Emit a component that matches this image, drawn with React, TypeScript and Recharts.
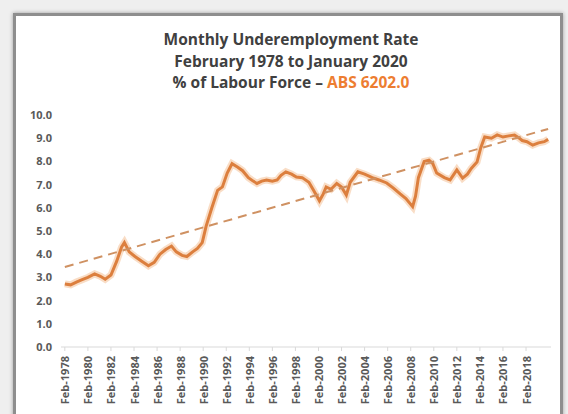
import { ComposedChart, Line, XAxis, YAxis } from "recharts";

// month of each reading (YYYY-MM) and the underemployment rate, % of labour force
const months = [
  "1978-02", "1978-08", "1979-02", "1979-08", "1980-02", "1980-09", "1981-03", "1981-08",
  "1982-02", "1982-08", "1983-01", "1983-04", "1983-09", "1984-03", "1984-10", "1985-05",
  "1985-11", "1986-05", "1986-11", "1987-05", "1987-10", "1988-04", "1988-09", "1989-03",
  "1989-08", "1990-01", "1990-05", "1990-11", "1991-05", "1991-10", "1992-03", "1992-08",
  "1993-02", "1993-07", "1994-01", "1994-06", "1994-10", "1995-03", "1995-08", "1996-02",
  "1996-07", "1996-11", "1997-04", "1997-10", "1998-03", "1998-09", "1999-04", "1999-09",
  "2000-03", "2000-07", "2000-10", "2001-03", "2001-09", "2002-02", "2002-07", "2002-11",
  "2003-07", "2004-02", "2004-10", "2005-05", "2006-01", "2006-08", "2007-03", "2007-09",
  "2008-04", "2008-07", "2008-10", "2009-04", "2009-09", "2010-01", "2010-05", "2011-01",
  "2011-07", "2012-02", "2012-08", "2013-01", "2013-05", "2013-11", "2014-03", "2014-07",
  "2015-02", "2015-08", "2016-02", "2016-08", "2017-02", "2017-07", "2017-10", "2018-03",
  "2018-09", "2019-03", "2019-09", "2020-01",
];
const rate = [
  2.72, 2.68, 2.8, 2.9, 3.0, 3.15, 3.05, 2.92,
  3.1, 3.7, 4.3, 4.5, 4.1, 3.9, 3.7, 3.5,
  3.65, 4.0, 4.2, 4.35, 4.1, 3.95, 3.9, 4.1,
  4.25, 4.5, 5.2, 6.0, 6.75, 6.9, 7.5, 7.9,
  7.75, 7.6, 7.3, 7.15, 7.05, 7.15, 7.2, 7.15,
  7.2, 7.4, 7.55, 7.45, 7.33, 7.3, 7.1, 6.75,
  6.3, 6.6, 6.9, 6.8, 7.05, 6.9, 6.55, 7.1,
  7.55, 7.45, 7.3, 7.2, 7.07, 6.85, 6.6, 6.4,
  6.05, 6.5, 7.3, 8.0, 8.05, 7.9, 7.5, 7.3,
  7.2, 7.63, 7.28, 7.45, 7.7, 7.97, 8.6, 9.05,
  9.0, 9.14, 9.05, 9.1, 9.14, 9.0, 8.9, 8.85,
  8.7, 8.8, 8.85, 8.95,
];

// linear trend, start and end
const trendMonths = ["1978-02", "2020-01"];
const trendRate = [3.45, 9.4];

const tickLabels = [
  "Feb-1978", "Feb-1980", "Feb-1982", "Feb-1984", "Feb-1986", "Feb-1988", "Feb-1990",
  "Feb-1992", "Feb-1994", "Feb-1996", "Feb-1998", "Feb-2000", "Feb-2002", "Feb-2004",
  "Feb-2006", "Feb-2008", "Feb-2010", "Feb-2012", "Feb-2014", "Feb-2016", "Feb-2018",
];
const yTicks = [0, 1, 2, 3, 4, 5, 6, 7, 8, 9, 10];

const toYear = (m: string) => {
  const [y, mo] = m.split("-").map(Number);
  return y + (mo - 1) / 12;
};
const labelToYear = (l: string) => Number(l.slice(4)) + 1 / 12;

const series = months.map((m, i) => ({ t: toYear(m), v: rate[i] }));
const trend = trendMonths.map((m, i) => ({ t: toYear(m), v: trendRate[i] }));
const xTicks = tickLabels.map(labelToYear);

const FONT = "'Open Sans', Lato, sans-serif";
const AXIS_TEXT = "#595959";

function XTick({ x, y, index }: any) {
  return (
    <text
      x={0}
      y={0}
      transform={`translate(${x},${y}) rotate(-90)`}
      textAnchor="end"
      dominantBaseline="central"
      fontSize={11}
      fontWeight="bold"
      fontFamily={FONT}
      fill={AXIS_TEXT}
    >
      {tickLabels[index]}
    </text>
  );
}

export default function App() {
  return (
    <div
      style={{
        position: "absolute",
        left: 0,
        top: 0,
        width: 568,
        height: 414,
        overflow: "hidden",
        background: "#efefef",
        fontFamily: FONT,
      }}
    >
      <div
        style={{
          position: "absolute",
          left: 13,
          top: 13,
          width: 550,
          height: 420,
          boxSizing: "border-box",
          border: "3px solid #8e8e8e",
          background: "#fff",
          boxShadow: "0 0 4px rgba(0,0,0,0.35)",
        }}
      />
      <div
        style={{
          position: "absolute",
          left: 0,
          top: 29,
          width: 582,
          textAlign: "center",
          fontWeight: "bold",
          fontSize: 15.5,
          lineHeight: "21.5px",
          color: "#404040",
        }}
      >
        <div>Monthly Underemployment Rate</div>
        <div>February 1978 to January 2020</div>
        <div>
          % of Labour Force – <span style={{ color: "#ED7D31" }}>ABS 6202.0</span>
        </div>
      </div>
      <div style={{ position: "absolute", left: 0, top: 0 }}>
        <ComposedChart
          width={568}
          height={414}
          margin={{ top: 115, right: 17, bottom: 0, left: 0 }}
        >
          <XAxis
            dataKey="t"
            type="number"
            domain={[1977.75, 2020.25]}
            ticks={xTicks}
            interval={0}
            allowDataOverflow
            height={67}
            axisLine={{ stroke: "#d9d9d9" }}
            tickLine={{ stroke: "#d9d9d9" }}
            tickSize={4}
            tickMargin={5}
            tick={<XTick />}
          />
          <YAxis
            type="number"
            domain={[0, 10]}
            ticks={yTicks}
            interval={0}
            width={61}
            axisLine={false}
            tickLine={false}
            tickSize={0}
            tickMargin={9}
            tickFormatter={(v: number) => v.toFixed(1)}
            tick={{ fontSize: 11, fontWeight: "bold", fill: AXIS_TEXT, fontFamily: FONT }}
          />
          <Line
            data={series}
            dataKey="v"
            type="linear"
            stroke="#f7cfae"
            strokeOpacity={0.7}
            strokeWidth={7}
            dot={false}
            isAnimationActive={false}
          />
          <Line
            data={series}
            dataKey="v"
            type="linear"
            stroke="#dc7f3e"
            strokeWidth={3}
            dot={false}
            isAnimationActive={false}
          />
          <Line
            data={trend}
            dataKey="v"
            type="linear"
            stroke="#cf9162"
            strokeWidth={2}
            strokeDasharray="9 6"
            dot={false}
            isAnimationActive={false}
          />
        </ComposedChart>
      </div>
    </div>
  );
}
